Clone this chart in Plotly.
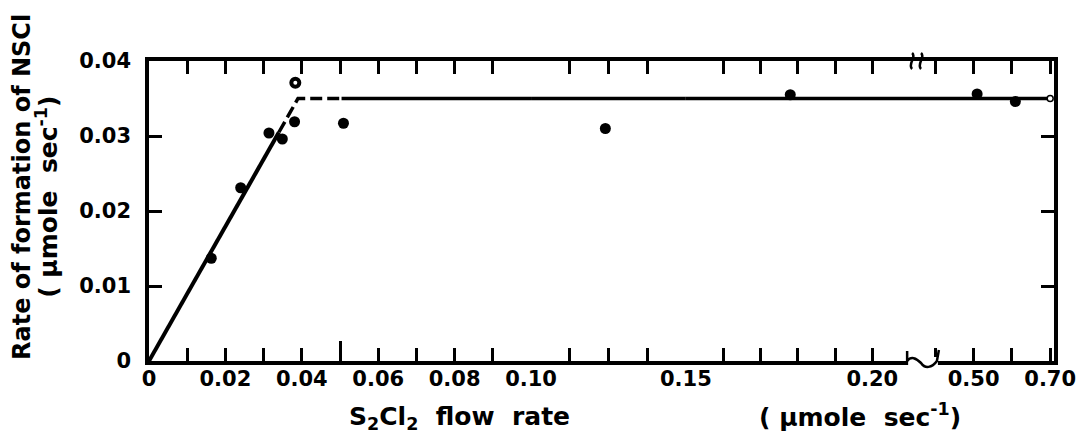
import plotly.graph_objects as go

# ---------------- data ----------------
y_ticks = [0, 0.01, 0.02, 0.03, 0.04]
y_tick_labels = ["0", "0.01", "0.02", "0.03", "0.04"]

segA_ticks = [0, 0.01, 0.02, 0.03, 0.04, 0.05, 0.06, 0.07, 0.08, 0.09, 0.10]
segA_labels = ["0", "", "0.02", "", "0.04", "", "0.06", "", "0.08", "", "0.10"]
segB_ticks = [0.1125, 0.125, 0.1375]
segC_ticks = [0.15, 0.16, 0.17, 0.18, 0.19, 0.20]
segC_labels = ["0.15", "", "", "", "", "0.20"]
segD_ticks = [0.4, 0.5, 0.6, 0.7]
segD_labels = ["", "0.50", "", "0.70"]
long_ticks_A = [0.05]
long_ticks_C = [0.15]

flow = [0.0163, 0.024, 0.0314, 0.0349, 0.0381, 0.0509, 0.124, 0.178, 0.509, 0.609]
rate = [0.0137, 0.0231, 0.0304, 0.0296, 0.0319, 0.0317, 0.0310, 0.0355, 0.0356, 0.0346]
ring_flow = [0.0383]
ring_rate = [0.0371]
end_flow = [0.70]
end_rate = [0.035]

fit_solid_x = [0, 0.034]
fit_solid_y = [0, 0.0305]
fit_dash_x = [0.034, 0.039, 0.0504]
fit_dash_y = [0.0305, 0.035, 0.035]
plateau_x = [0.0504, 0.70]
plateau_y = [0.035, 0.035]

# ---------------- layout geometry ----------------
W, H = 1092, 444          # browser window
OFF = 8                   # default body margin of the html page
L, R, T, B = 149, 1061, 61, 361   # plot area in window pixels
PW, PH = R - L, B - T
breaks_px = [534, 690, 923]
dom = [0] + [(b - L) / PW for b in breaks_px] + [1]
rngA = [0, 0.10]
rngB = [0.10, 0.15]
rngC = [0.15, 0.2120]
rngD = [0.352, 0.710]

FONT = "DejaVu Sans"
tickfont = dict(family=FONT, size=21, color="black", weight="bold")

fig = go.Figure()

segments = [("x", "y"), ("x2", "y"), ("x3", "y"), ("x4", "y2")]
for xa, ya in segments:
    fig.add_trace(go.Scatter(x=plateau_x, y=plateau_y, mode="lines", xaxis=xa, yaxis=ya,
                             line=dict(color="black", width=3.5), showlegend=False, hoverinfo="skip"))
    fig.add_trace(go.Scatter(x=flow, y=rate, mode="markers", xaxis=xa, yaxis=ya,
                             marker=dict(color="black", size=11), showlegend=False))

fig.add_trace(go.Scatter(x=fit_solid_x, y=fit_solid_y, mode="lines", xaxis="x", yaxis="y",
                         line=dict(color="black", width=4), showlegend=False, hoverinfo="skip"))
fig.add_trace(go.Scatter(x=fit_dash_x, y=fit_dash_y, mode="lines", xaxis="x", yaxis="y",
                         line=dict(color="black", width=3.5, dash="12px,5px"), showlegend=False,
                         hoverinfo="skip"))
fig.add_trace(go.Scatter(x=ring_flow, y=ring_rate, mode="markers", xaxis="x", yaxis="y",
                         marker=dict(symbol="circle-open", color="black", size=8,
                                     line=dict(width=4, color="black")), showlegend=False))
fig.add_trace(go.Scatter(x=end_flow, y=end_rate, mode="markers", xaxis="x4", yaxis="y2",
                         marker=dict(symbol="circle", color="white", size=6,
                                     line=dict(width=1.5, color="black")),
                         showlegend=False, cliponaxis=False))
# empty traces so the overlay tick axes are drawn
fig.add_trace(go.Scatter(x=[], y=[], xaxis="x5", yaxis="y", showlegend=False))
fig.add_trace(go.Scatter(x=[], y=[], xaxis="x6", yaxis="y", showlegend=False))

xcommon = dict(showline=True, linecolor="black", linewidth=3.5, mirror="ticks",
               ticks="inside", ticklen=13, tickwidth=2.5, tickcolor="black",
               showgrid=False, zeroline=False, tickfont=tickfont, ticklabelstandoff=-4,
               tickmode="array", fixedrange=True)

fig.update_layout(
    width=W - OFF, height=H - OFF, autosize=False,
    margin=dict(l=L - OFF, r=W - R, t=T - OFF, b=H - B, pad=0),
    paper_bgcolor="white", plot_bgcolor="white",
    xaxis=dict(domain=[dom[0], dom[1]], range=rngA, anchor="y",
               tickvals=segA_ticks, ticktext=segA_labels, **xcommon),
    xaxis2=dict(domain=[dom[1], dom[2]], range=rngB, anchor="y",
                tickvals=segB_ticks, ticktext=["" for _ in segB_ticks], **xcommon),
    xaxis3=dict(domain=[dom[2], dom[3]], range=rngC, anchor="y",
                tickvals=segC_ticks, ticktext=segC_labels, **xcommon),
    xaxis4=dict(domain=[dom[3], dom[4]], range=rngD, anchor="y2",
                tickvals=segD_ticks, ticktext=segD_labels, **xcommon),
    xaxis5=dict(overlaying="x", range=rngA, anchor="y", side="bottom", showline=False,
                ticks="inside", ticklen=20, tickwidth=2.5, tickcolor="black",
                tickmode="array", tickvals=long_ticks_A, showticklabels=False,
                showgrid=False, zeroline=False, fixedrange=True),
    xaxis6=dict(overlaying="x3", range=rngC, anchor="y", side="bottom", showline=False,
                ticks="inside", ticklen=23, tickwidth=2.5, tickcolor="black",
                tickmode="array", tickvals=long_ticks_C, showticklabels=False,
                showgrid=False, zeroline=False, fixedrange=True),
    yaxis=dict(domain=[0, 1], range=[0, 0.04], anchor="x", side="left",
               showline=True, linecolor="black", linewidth=3.5,
               ticks="inside", ticklen=13, tickwidth=2.5, tickcolor="black",
               tickmode="array", tickvals=y_ticks, ticktext=y_tick_labels,
               tickfont=tickfont, ticklabelstandoff=10,
               showgrid=False, zeroline=False, fixedrange=True),
    yaxis2=dict(domain=[0, 1], range=[0, 0.04], anchor="x4", side="right", matches="y",
                showline=True, linecolor="black", linewidth=3.5,
                ticks="inside", ticklen=13, tickwidth=2.5, tickcolor="black",
                tickmode="array", tickvals=y_ticks, showticklabels=False,
                showgrid=False, zeroline=False, fixedrange=True),
)


def px2paper(px, py):
    return (px - L) / PW, (B - py) / PH


def path(points_cmds):
    out = []
    for cmd, pts in points_cmds:
        coords = " ".join("%.5f,%.5f" % px2paper(*p) for p in pts)
        out.append(cmd + " " + coords)
    return " ".join(out)


shapes = []
# top break mark: two small S-squiggles
for xc in (918, 927):
    shapes.append(dict(type="path", xref="paper", yref="paper",
                       path=path([("M", [(xc, 53)]),
                                  ("C", [(xc + 5, 57), (xc - 5, 64), (xc, 69)])]),
                       line=dict(color="black", width=2.5), layer="above"))
# bottom break: white gap + wave
x0p, y0p = px2paper(914, 357)
x1p, y1p = px2paper(944, 365)
shapes.append(dict(type="rect", xref="paper", yref="paper", x0=x0p, x1=x1p, y0=y1p, y1=y0p,
                   fillcolor="white", line=dict(width=0), layer="above"))
shapes.append(dict(type="path", xref="paper", yref="paper",
                   path=path([("M", [(913, 351)]), ("L", [(913, 361)]),
                              ("C", [(917, 356), (922, 358), (927, 363)]),
                              ("C", [(931, 369), (938, 368), (943, 361)]),
                              ("L", [(945, 350)])]),
                   line=dict(color="black", width=2.5), layer="above"))
fig.update_layout(shapes=shapes)

titlefont = dict(family=FONT, size=25, color="black", weight="bold")
ylinefont = dict(family=FONT, size=24, color="black", weight="bold")
ann = []
ax, ay = px2paper(21, 187)
ann.append(dict(text="Rate of formation of NSCl", x=ax, y=ay, xref="paper", yref="paper",
                textangle=-90, showarrow=False, font=ylinefont, xanchor="center", yanchor="middle"))
ax, ay = px2paper(46, 197)
ann.append(dict(text="(\u00a0\u00b5mole\u00a0\u00a0sec<sup>-1</sup>)", x=ax, y=ay, xref="paper", yref="paper",
                textangle=-90, showarrow=False, font=titlefont, xanchor="center", yanchor="middle"))
ax, ay = px2paper(462, 418)
ann.append(dict(text="S<sub>2</sub>Cl<sub>2</sub>\u00a0\u00a0flow\u00a0\u00a0rate", x=ax, y=ay,
                xref="paper", yref="paper", showarrow=False, font=titlefont,
                xanchor="center", yanchor="middle"))
ax, ay = px2paper(866, 415)
ann.append(dict(text="(\u00a0\u00b5mole\u00a0\u00a0sec<sup>-1</sup>)", x=ax, y=ay,
                xref="paper", yref="paper", showarrow=False, font=titlefont,
                xanchor="center", yanchor="middle"))
fig.update_layout(annotations=ann)

fig.write_html("out.html")
